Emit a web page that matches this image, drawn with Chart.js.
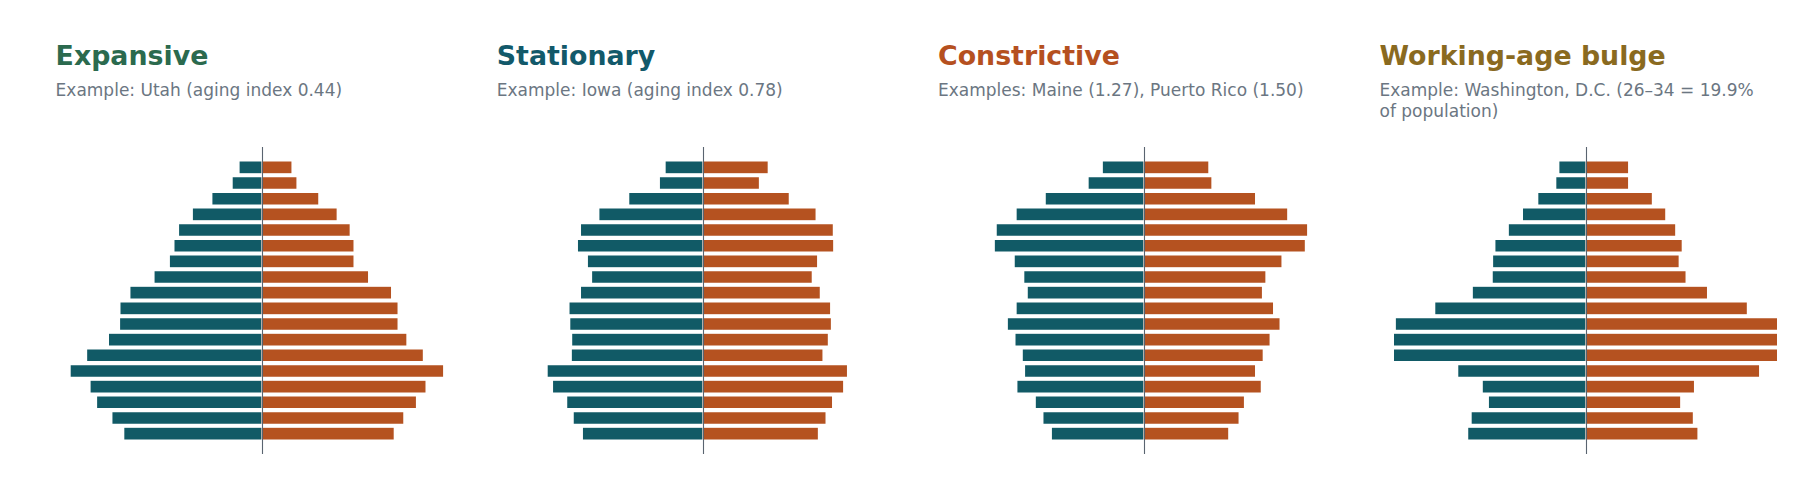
<!DOCTYPE html>
<html>
<head>
<meta charset="utf-8">
<script src="https://cdn.jsdelivr.net/npm/chart.js@4"></script>
<style>
  body{margin:0;background:#fff;font-family:"DejaVu Sans",sans-serif;}
  #wrap{position:relative;width:1818px;height:494px;overflow:hidden;}
  .title{position:absolute;top:42.5px;font-size:26.8px;line-height:26.8px;font-weight:bold;white-space:nowrap;}
  .sub{position:absolute;top:79.5px;font-size:17px;line-height:21.7px;color:#6b7682;white-space:nowrap;}
  .box{position:absolute;top:147px;width:383px;height:307px;}
</style>
</head>
<body>
<div id="wrap"></div>
<script>
// age groups, youngest first (drawn bottom to top)
const ages=['0–4','5–9','10–14','15–19','20–24','25–29','30–34','35–39','40–44','45–49','50–54','55–59','60–64','65–69','70–74','75–79','80–84','85+'];

const titles=['Expansive','Stationary','Constrictive','Working-age bulge'];
const subtitles=['Example: Utah (aging index 0.44)','Example: Iowa (aging index 0.78)','Examples: Maine (1.27), Puerto Rico (1.50)','Example: Washington, D.C. (26–34 = 19.9%<br>of population)'];
const titleColors=['#2b6a4e','#12596a','#b5501f','#8a6a1f'];

// share of population by sex, percent
const utahMale=[3.60,3.91,4.31,4.48,5.00,4.57,4.00,3.71,3.70,3.44,2.81,2.41,2.29,2.17,1.81,1.30,0.77,0.59];
const utahFemale=[3.47,3.72,4.05,4.30,4.76,4.23,3.80,3.57,3.57,3.40,2.80,2.42,2.42,2.32,1.98,1.50,0.93,0.80];
const iowaMale=[3.14,3.38,3.55,3.92,4.06,3.43,3.42,3.47,3.49,3.19,2.90,3.01,3.27,3.19,2.71,1.93,1.13,0.98];
const iowaFemale=[3.03,3.23,3.40,3.69,3.79,3.15,3.29,3.37,3.35,3.08,2.87,3.01,3.43,3.42,2.97,2.27,1.49,1.72];
const maineMale=[2.41,2.63,2.83,3.31,3.11,3.17,3.36,3.56,3.33,3.04,3.13,3.38,3.90,3.85,3.33,2.57,1.45,1.08];
const maineFemale=[2.23,2.50,2.64,3.08,2.93,3.13,3.31,3.57,3.40,3.11,3.20,3.62,4.23,4.29,3.77,2.93,1.79,1.71];
const dcMale=[3.08,2.99,2.54,2.70,3.34,5.10,5.10,4.97,3.94,2.96,2.44,2.43,2.37,2.02,1.65,1.25,0.78,0.70];
const dcFemale=[2.94,2.82,2.49,2.85,4.55,5.20,5.20,5.10,4.23,3.19,2.63,2.45,2.53,2.36,2.10,1.75,1.13,1.13];

const males=[utahMale,iowaMale,maineMale,dcMale];
const females=[utahFemale,iowaFemale,maineFemale,dcFemale];

const maleColor='#115a66';
const femaleColor='#b55220';
const xLimit=5;

const zeroLine={
  id:'zeroLine',
  afterDatasetsDraw(chart){
    const ctx=chart.ctx, a=chart.chartArea;
    const x=Math.round(chart.scales.x.getPixelForValue(0))+0.5;
    ctx.save();
    ctx.strokeStyle='#5a6470';
    ctx.lineWidth=1.1;
    ctx.beginPath();
    ctx.moveTo(x,a.top);
    ctx.lineTo(x,a.bottom);
    ctx.stroke();
    ctx.restore();
  }
};

const wrap=document.getElementById('wrap');
const lefts=[69.6,510.8,952,1393.5];

for(let i=0;i<4;i++){
  const t=document.createElement('div');
  t.className='title';
  t.style.left=(lefts[i]-14)+'px';
  t.style.color=titleColors[i];
  t.textContent=titles[i];
  wrap.appendChild(t);

  const s=document.createElement('div');
  s.className='sub';
  s.style.left=(lefts[i]-14)+'px';
  s.innerHTML=subtitles[i];
  wrap.appendChild(s);

  const box=document.createElement('div');
  box.className='box';
  box.style.left=lefts[i]+'px';
  const cv=document.createElement('canvas');
  box.appendChild(cv);
  wrap.appendChild(box);

  new Chart(cv,{
    type:'bar',
    data:{
      datasets:[{
        label:'Male',
        data:males[i].map((v,k)=>({x:-v,y:k})),
        backgroundColor:maleColor,
        borderColor:'rgba(255,255,255,0.6)',
        borderWidth:0.7,
        grouped:false,
        barPercentage:0.83,
        categoryPercentage:1
      },{
        label:'Female',
        data:females[i].map((v,k)=>({x:v,y:k})),
        backgroundColor:femaleColor,
        borderColor:'rgba(255,255,255,0.6)',
        borderWidth:0.7,
        grouped:false,
        barPercentage:0.83,
        categoryPercentage:1
      }]
    },
    options:{
      indexAxis:'y',
      responsive:true,
      maintainAspectRatio:false,
      animation:false,
      layout:{padding:0},
      plugins:{legend:{display:false},tooltip:{enabled:false}},
      scales:{
        x:{type:'linear',min:-xLimit,max:xLimit,display:false},
        y:{type:'linear',min:-1.3,max:ages.length-1+1.3,offset:false,display:false}
      }
    },
    plugins:[zeroLine]
  });
}
</script>
</body>
</html>
